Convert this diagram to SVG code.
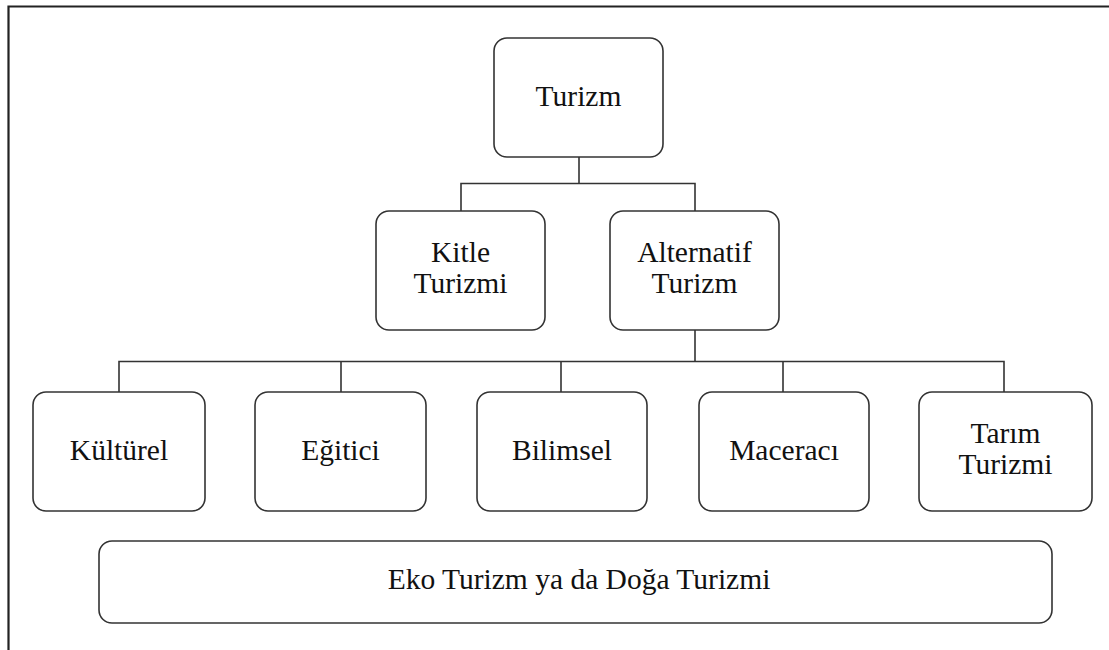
<svg xmlns="http://www.w3.org/2000/svg" width="1109" height="650" viewBox="0 0 1109 650">
<style>
.box{fill:#fff;stroke:#333;stroke-width:1.6}
.t{font-family:"Liberation Serif","Times New Roman",serif;font-size:29.5px;fill:#111;text-anchor:middle}
.c{fill:none;stroke:#333;stroke-width:1.6}
</style>
<rect width="1109" height="650" fill="#fff"/>
<path d="M8.5,650 V6.5 H1109" fill="none" stroke="#222" stroke-width="2.2"/>
<g id="connectors">
<path class="c" d="M579,157 V183.5 M461,211 V183.5 H695 V211"/>
<path class="c" d="M695,330 V361" stroke-width="2.6"/>
<path class="c" d="M119,392 V361.5 H1004 V392 M341,361.5 V392 M561,361.5 V392 M783,361.5 V392"/>
</g>
<g id="turizm"><rect class="box" x="494" y="38" width="169" height="119" rx="13"/><text class="t" x="578.5" y="106">Turizm</text></g>
<g id="kitle"><rect class="box" x="376" y="211" width="169" height="119" rx="13"/><text class="t" x="460.5" y="262">Kitle</text><text class="t" x="460.5" y="293">Turizmi</text></g>
<g id="alternatif"><rect class="box" x="610" y="211" width="169" height="119" rx="13"/><text class="t" x="694.5" y="262">Alternatif</text><text class="t" x="694.5" y="293">Turizm</text></g>
<g id="kulturel"><rect class="box" x="33" y="392" width="172" height="119" rx="13"/><text class="t" x="119" y="460">Kültürel</text></g>
<g id="egitici"><rect class="box" x="255" y="392" width="171" height="119" rx="13"/><text class="t" x="340.5" y="460">Eğitici</text></g>
<g id="bilimsel"><rect class="box" x="477" y="392" width="170" height="119" rx="13"/><text class="t" x="562" y="460">Bilimsel</text></g>
<g id="maceraci"><rect class="box" x="699" y="392" width="170" height="119" rx="13"/><text class="t" x="784" y="460">Maceracı</text></g>
<g id="tarim"><rect class="box" x="919" y="392" width="173" height="119" rx="13"/><text class="t" x="1005.5" y="443">Tarım</text><text class="t" x="1005.5" y="474">Turizmi</text></g>
<g id="eko"><rect class="box" x="99" y="541" width="953" height="82" rx="13"/><text class="t" x="579" y="589">Eko Turizm ya da Doğa Turizmi</text></g>
</svg>
